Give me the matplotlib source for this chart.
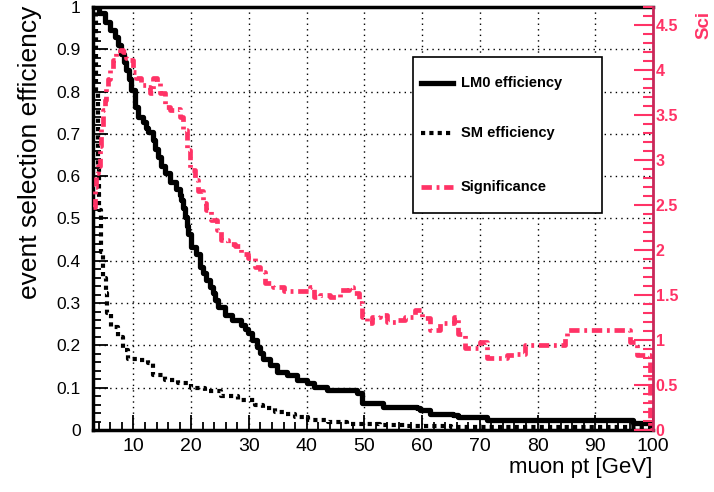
import numpy as np
import matplotlib
matplotlib.use("Agg")
import matplotlib.pyplot as plt
from matplotlib.lines import Line2D
from matplotlib.patches import Rectangle
from matplotlib.ticker import MultipleLocator, FuncFormatter

# --- datos (histogramas, dibujados en escalon) ---
lm0_x = [3.0, 4.0, 5.0, 5.9, 6.8, 7.4, 7.9, 8.4, 8.8, 9.2, 9.6, 10.2, 10.8, 11.6, 12.1, 12.5,
         13.4, 13.8, 14.3, 14.8, 15.4, 16.3, 17.4, 18.0, 18.3, 18.6, 18.9, 19.2, 19.5, 20.0,
         20.9, 21.5, 22.0, 22.6, 23.2, 23.8, 24.2, 24.7, 25.8, 27.0, 28.7, 29.3, 29.9, 30.6,
         31.4, 32.0, 32.5, 33.7, 34.8, 36.6, 38.3, 40.0, 41.2, 43.5, 48.7, 49.6, 53.3, 59.1,
         59.7, 61.4, 65.4, 66.3, 71.2, 96.5, 100.0]
lm0_eff = [1.0, 0.985, 0.965, 0.945, 0.93, 0.91, 0.89, 0.87, 0.851, 0.83, 0.804, 0.764, 0.74,
           0.729, 0.715, 0.705, 0.686, 0.665, 0.646, 0.625, 0.607, 0.587, 0.569, 0.555, 0.544,
           0.525, 0.504, 0.483, 0.463, 0.433, 0.415, 0.386, 0.37, 0.355, 0.338, 0.323, 0.307,
           0.291, 0.272, 0.26, 0.248, 0.238, 0.229, 0.212, 0.197, 0.182, 0.169, 0.154, 0.138,
           0.130, 0.118, 0.110, 0.102, 0.095, 0.087, 0.063, 0.055, 0.051, 0.047, 0.039, 0.035,
           0.031, 0.024, 0.016, 0.016]

sm_x = [3.0, 3.5, 3.8, 4.1, 4.4, 4.7, 5.3, 5.5, 6.2, 7.3, 8.2, 9.1, 10.8, 12.5, 13.4, 15.4,
        17.7, 20.0, 22.4, 25.2, 28.1, 31.0, 32.5, 34.5, 36.0, 38.0, 40.3, 43.7, 47.0, 52.7,
        57.0, 65.0, 100.0]
sm_eff = [1.0, 0.80, 0.62, 0.52, 0.42, 0.36, 0.323, 0.276, 0.244, 0.22, 0.189, 0.169, 0.165,
          0.158, 0.13, 0.118, 0.110, 0.100, 0.093, 0.080, 0.072, 0.060, 0.051, 0.043, 0.037,
          0.030, 0.024, 0.019, 0.015, 0.012, 0.009, 0.007, 0.007]

sig_x = [3.0, 3.3, 3.6, 3.9, 4.2, 4.4, 4.7, 5.0, 5.3, 5.6, 5.9, 6.5, 7.0, 7.6, 8.2, 8.8, 9.4,
         9.9, 10.5, 11.4, 12.2, 12.8, 13.4, 14.0, 14.6, 15.4, 16.3, 17.4, 18.0, 18.6, 19.2,
         19.8, 20.6, 21.2, 22.1, 22.6, 23.5, 24.4, 25.2, 26.4, 27.6, 28.7, 29.9, 31.0, 31.9,
         32.8, 34.2, 36.0, 39.4, 40.6, 41.2, 42.3, 44.1, 45.8, 47.3, 48.1, 49.0, 49.6, 50.5,
         51.3, 52.7, 53.9, 55.6, 57.1, 58.8, 60.0, 61.4, 63.1, 65.5, 66.3, 67.5, 70.1, 71.2,
         74.7, 76.1, 77.8, 84.8, 85.1, 96.1, 97.2, 99.5, 100.0]
sig_val = [2.48, 2.70, 2.85, 2.93, 3.15, 3.37, 3.56, 3.67, 3.81, 3.90, 4.00, 4.11, 4.19, 4.22,
           4.20, 4.13, 4.11, 3.98, 3.91, 3.83, 3.81, 3.74, 3.91, 3.87, 3.74, 3.59, 3.56, 3.57,
           3.48, 3.33, 3.11, 2.89, 2.78, 2.65, 2.52, 2.44, 2.33, 2.22, 2.11, 2.07, 2.04, 1.96,
           1.91, 1.81, 1.76, 1.63, 1.59, 1.54, 1.55, 1.59, 1.48, 1.50, 1.48, 1.56, 1.59, 1.52,
           1.41, 1.26, 1.19, 1.26, 1.28, 1.20, 1.22, 1.26, 1.33, 1.24, 1.11, 1.19, 1.26, 1.07,
           0.91, 0.98, 0.80, 0.83, 0.85, 0.94, 1.04, 1.11, 0.98, 0.83, 0.0, 0.0]

labels = ["LM0 efficiency", "SM efficiency", "Significance"]
PINK = "#ff3366"; AXPINK = "#c8285a"
SOLID = "-"; DOTS = (0, (1, 1)); DASHDOT = (0, (2.2, 1.0, 0.6, 1.0))

plt.rcParams["font.family"] = ["Liberation Sans", "DejaVu Sans"]
fig = plt.figure(figsize=(7.14, 4.92), dpi=100)
W, H = 714, 492
ax = fig.add_axes([93/W, 1-430/H, (653-93)/W, (430-7)/H])

l1, = ax.plot(lm0_x, lm0_eff, drawstyle="steps-post", color="black", lw=3.8, ls=SOLID)
l2, = ax.plot(sm_x, sm_eff, drawstyle="steps-post", color="black", lw=3.0, ls=DOTS,
              dash_capstyle="butt")
ax.set_xlim(3, 100); ax.set_ylim(0, 1)
ax.xaxis.set_major_locator(MultipleLocator(10)); ax.xaxis.set_minor_locator(MultipleLocator(2))
ax.yaxis.set_major_locator(MultipleLocator(0.1)); ax.yaxis.set_minor_locator(MultipleLocator(0.02))
fmt = FuncFormatter(lambda v, p: f"{v:g}")
ax.yaxis.set_major_formatter(fmt); ax.xaxis.set_major_formatter(fmt)
ax.grid(True, which="major", color="black", ls=(0, (1, 3)), lw=1.0)
ax.tick_params(which="both", direction="in", top=False, right=False, width=1.3, color="black")
ax.tick_params(which="major", length=11)
ax.tick_params(which="minor", length=6)
ax.tick_params(axis="x", labelsize=14, pad=6)
ax.tick_params(axis="y", labelsize=12.5, pad=9)
for s in ["left", "bottom", "top"]: ax.spines[s].set_linewidth(2.5)
ax.spines["right"].set_visible(False)

ax2 = ax.twinx()
ax2.set_position(ax.get_position())
l3, = ax2.plot(sig_x, sig_val, drawstyle="steps-post", color=PINK, lw=3.4, ls=DASHDOT,
               dash_capstyle="butt")
ax2.set_ylim(0, 4.7)
ax2.yaxis.set_major_locator(MultipleLocator(0.5)); ax2.yaxis.set_minor_locator(MultipleLocator(0.1))
ax2.yaxis.set_major_formatter(fmt)
for s in ["left", "bottom", "top"]: ax2.spines[s].set_visible(False)
ax2.spines["right"].set_color(AXPINK); ax2.spines["right"].set_linewidth(2)
ax2.tick_params(axis="y", which="both", direction="in", color=PINK, labelcolor=PINK, width=1.5,
                labelsize=11.5, pad=2)
ax2.tick_params(axis="y", which="major", length=14)
ax2.tick_params(axis="y", which="minor", length=7)
for t in ax2.get_yticklabels(): t.set_fontweight("bold")

# titulos de ejes
fig.text(30/W, 1-6/H, "event selection efficiency", rotation=90, ha="center", va="top", fontsize=19)
fig.text(652/W, 1-468/H, "muon pt [GeV]", ha="right", va="center", fontsize=16)
fig.text(708/W, 1-39/H, "Sci", rotation=90, rotation_mode="anchor", ha="left",
         va="baseline", fontsize=13.5, fontweight="bold", color=PINK)

# leyenda estilo ROOT
fig.patches.append(Rectangle((413/W, 1-213/H), (602-413)/W, (213-57)/H, transform=fig.transFigure,
                             fill=True, facecolor="white", edgecolor="black", lw=1.2, zorder=5))
for yy, ln, st, lab in zip([83, 133, 187], [l1, l2, l3], [SOLID, DOTS, DASHDOT], labels):
    fig.lines.append(Line2D([421/W, 453/W], [1-yy/H]*2, transform=fig.transFigure, color=ln.get_color(),
                            lw=ln.get_linewidth(), ls=st, dash_capstyle="butt", zorder=6))
    fig.text(461/W, 1-yy/H, lab, ha="left", va="center", fontsize=10.5, fontweight="bold", zorder=6)

fig.savefig("out.png", dpi=100)
